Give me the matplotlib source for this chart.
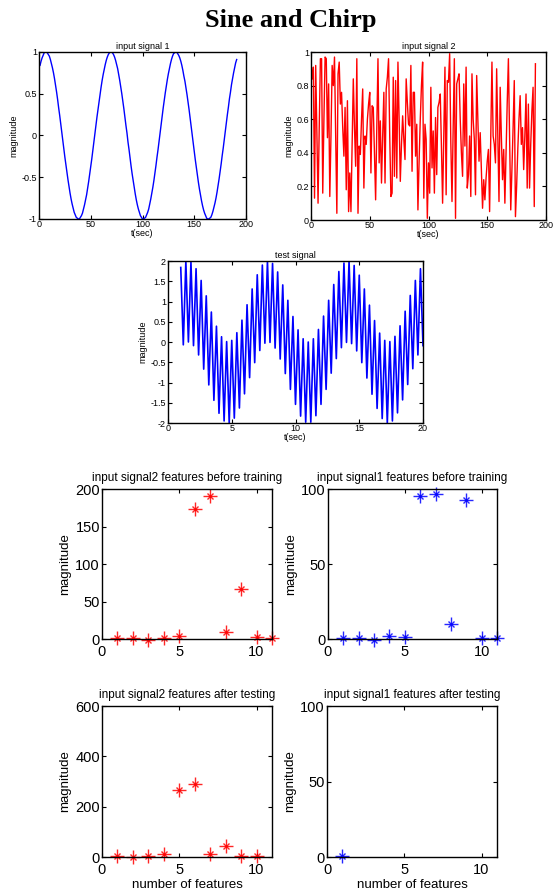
import matplotlib.pyplot as plt

# input signal 1 (sample index 1..191)
sig1 = [0.84, 0.89, 0.93, 0.96, 0.99, 1.00, 1.00, 0.99, 0.97, 0.95,
        0.91, 0.86, 0.81, 0.75, 0.68, 0.60, 0.52, 0.43, 0.33, 0.24,
        0.14, 0.04, -0.06, -0.16, -0.26, -0.35, -0.44, -0.53, -0.61, -0.69,
        -0.76, -0.82, -0.87, -0.92, -0.95, -0.98, -0.99, -1.00, -1.00, -0.98,
        -0.96, -0.93, -0.88, -0.83, -0.77, -0.71, -0.63, -0.55, -0.46, -0.37,
        -0.28, -0.18, -0.08, 0.02, 0.12, 0.22, 0.31, 0.40, 0.49, 0.58,
        0.66, 0.73, 0.79, 0.85, 0.90, 0.94, 0.97, 0.99, 1.00, 1.00,
        0.99, 0.97, 0.94, 0.90, 0.85, 0.80, 0.73, 0.66, 0.58, 0.50,
        0.41, 0.32, 0.22, 0.12, 0.03, -0.08, -0.17, -0.27, -0.37, -0.46,
        -0.54, -0.62, -0.70, -0.77, -0.83, -0.88, -0.92, -0.96, -0.98, -1.00,
        -1.00, -0.99, -0.98, -0.95, -0.92, -0.88, -0.82, -0.76, -0.69, -0.62,
        -0.54, -0.45, -0.36, -0.26, -0.17, -0.07, 0.03, 0.13, 0.23, 0.33,
        0.42, 0.51, 0.59, 0.67, 0.74, 0.80, 0.86, 0.91, 0.95, 0.98,
        0.99, 1.00, 1.00, 0.98, 0.96, 0.93, 0.89, 0.84, 0.78, 0.71,
        0.65, 0.57, 0.49, 0.40, 0.31, 0.21, 0.11, 0.01, -0.09, -0.19,
        -0.29, -0.38, -0.47, -0.56, -0.64, -0.71, -0.78, -0.84, -0.89, -0.93,
        -0.96, -0.99, -1.00, -1.00, -0.99, -0.98, -0.95, -0.91, -0.86, -0.81,
        -0.75, -0.68, -0.60, -0.52, -0.43, -0.34, -0.24, -0.15, -0.05, 0.05,
        0.15, 0.25, 0.34, 0.44, 0.52, 0.61, 0.68, 0.75, 0.81, 0.87,
        0.91]

# input signal 2 (sample index 1..191)
sig2 = [0.84, 0.91, 0.13, 0.92, 0.52, 0.10, 0.55, 0.96, 0.96, 0.16,
        0.60, 0.97, 0.96, 0.49, 0.81, 0.14, 0.50, 0.92, 0.80, 0.97,
        0.50, 0.04, 0.87, 0.94, 0.69, 0.76, 0.55, 0.38, 0.67, 0.18,
        0.71, 0.05, 0.28, 0.05, 0.45, 0.84, 0.55, 0.32, 0.96, 0.04,
        0.44, 0.39, 0.60, 0.78, 0.19, 0.50, 0.45, 0.60, 0.69, 0.76,
        0.28, 0.68, 0.67, 0.40, 0.12, 0.55, 0.96, 0.34, 0.59, 0.22,
        0.50, 0.76, 0.22, 0.78, 0.85, 0.96, 0.50, 0.14, 0.16, 0.85,
        0.26, 0.83, 0.25, 0.94, 0.60, 0.23, 0.45, 0.62, 0.48, 0.36,
        0.84, 0.70, 0.57, 0.56, 0.92, 0.29, 0.76, 0.76, 0.38, 0.57,
        0.06, 0.35, 0.60, 0.80, 0.94, 0.13, 0.57, 0.48, 0.01, 0.34,
        0.16, 0.79, 0.31, 0.53, 0.16, 0.61, 0.27, 0.67, 0.70, 0.75,
        0.44, 0.10, 0.50, 0.91, 0.15, 0.83, 0.82, 0.99, 0.46, 0.11,
        0.55, 0.96, 0.01, 0.81, 0.84, 0.87, 0.60, 0.40, 0.26, 0.81,
        0.44, 0.91, 0.19, 0.27, 0.50, 0.14, 0.87, 0.60, 0.48, 0.15,
        0.86, 0.60, 0.35, 0.52, 0.30, 0.07, 0.24, 0.12, 0.25, 0.35,
        0.42, 0.05, 0.50, 0.94, 0.50, 0.45, 0.34, 0.90, 0.50, 0.11,
        0.79, 0.50, 0.24, 0.42, 0.10, 0.40, 0.70, 0.96, 0.50, 0.06,
        0.30, 0.55, 0.83, 0.02, 0.20, 0.42, 0.60, 0.74, 0.45, 0.55,
        0.30, 0.50, 0.75, 0.19, 0.69, 0.19, 0.45, 0.65, 0.79, 0.08,
        0.93]

# test signal: t = 1..20 s every 0.2 s, slow wave (every other sig1 sample) plus a fast +/-1 swing
slow = sig1[::2]
t_test = [1 + 0.2 * i for i in range(len(slow))]
fast = ([1, -1] * 48)[:len(slow)]
test_sig = [a + b for a, b in zip(slow, fast)]

features = list(range(1, 12))
s2_before = [1.3, 1.0, -1.0, 1.0, 4.5, 174, 191, 9, 67, 2.5, 0.8]
s1_before = [0.5, 0.7, -0.4, 2.2, 1.3, 95.5, 96.5, 10.2, 92.5, 0.7, 0.5]
features_test = list(range(1, 11))
s2_after = [5, 0, 5, 10, 265, 292, 10, 45, 4, 4]
s1_after_x = [1]
s1_after = [0.5]

plt.rcParams['font.family'] = ['Liberation Sans', 'DejaVu Sans']
plt.rcParams['path.simplify'] = False

W, H = 553, 896
fig = plt.figure(figsize=(W / 100, H / 100), dpi=100)


def add_ax(left, top, right, bottom):
    return fig.add_axes([left / W, 1 - bottom / H, (right - left) / W, (bottom - top) / H])


def style(ax, fs, xpad=1):
    ax.tick_params(direction='in', top=True, right=True, labelsize=fs, length=3, width=0.8, pad=1.5)
    ax.tick_params(axis='x', pad=xpad)
    for s in ax.spines.values():
        s.set_linewidth(1.0)


small = 6.5
fig.text(0.525, 1 - 21 / H, 'Sine and Chirp', ha='center', va='center',
         fontsize=19, fontweight='bold', family='Liberation Serif')

# input signal 1
ax1 = add_ax(39, 52, 246, 219)
ax1.plot(range(1, len(sig1) + 1), sig1, color='blue', lw=1)
ax1.set_xlim(0, 200)
ax1.set_ylim(-1, 1)
ax1.set_xticks([0, 50, 100, 150, 200])
ax1.set_yticks([-1, -0.5, 0, 0.5, 1])
ax1.set_yticklabels(['-1', '-0.5', '0', '0.5', '1'])
ax1.set_title('input signal 1', fontsize=small, pad=2)
ax1.set_xlabel('t(sec)', fontsize=small, labelpad=0)
ax1.set_ylabel('magnitude', fontsize=small, labelpad=2)
style(ax1, small)

# input signal 2
ax2 = add_ax(311, 52, 546, 220)
ax2.plot(range(1, len(sig2) + 1), sig2, color='red', lw=1)
ax2.set_xlim(0, 200)
ax2.set_ylim(0, 1)
ax2.set_xticks([0, 50, 100, 150, 200])
ax2.set_yticks([0, 0.2, 0.4, 0.6, 0.8, 1])
ax2.set_yticklabels(['0', '0.2', '0.4', '0.6', '0.8', '1'])
ax2.set_title('input signal 2', fontsize=small, pad=2)
ax2.set_xlabel('t(sec)', fontsize=small, labelpad=0)
ax2.set_ylabel('magnitude', fontsize=small, labelpad=2)
style(ax2, small)

# test signal
ax3 = add_ax(168, 261, 423, 423)
ax3.plot(t_test, test_sig, color='blue', lw=1.2)
ax3.set_xlim(0, 20)
ax3.set_ylim(-2, 2)
ax3.set_xticks([0, 5, 10, 15, 20])
ax3.set_yticks([-2, -1.5, -1, -0.5, 0, 0.5, 1, 1.5, 2])
ax3.set_yticklabels(['-2', '-1.5', '-1', '-0.5', '0', '0.5', '1', '1.5', '2'])
ax3.set_title('test signal', fontsize=small, pad=2)
ax3.set_xlabel('t(sec)', fontsize=small, labelpad=0)
ax3.set_ylabel('magnitude', fontsize=small, labelpad=2)
style(ax3, small)

big = 9.5


def stars(ax, x, y, c):
    ax.plot(x, y, '+', color=c, ms=10, mew=1.0, alpha=0.85, clip_on=False)
    ax.plot(x, y, 'x', color=c, ms=5, mew=1.0, alpha=0.85, clip_on=False)


panels = [
    ((102, 489, 272, 639), features, s2_before, 'red', 200, [0, 50, 100, 150, 200],
     'input signal2 features before training', False),
    ((328, 489, 497, 639), features, s1_before, 'blue', 100, [0, 50, 100],
     'input signal1 features before training', False),
    ((102, 706, 272, 857), features_test, s2_after, 'red', 600, [0, 200, 400, 600],
     'input signal2 features after testing', True),
    ((327, 706, 497, 857), s1_after_x, s1_after, 'blue', 100, [0, 50, 100],
     'input signal1 features after testing', True),
]

for box, x, y, c, ymax, yt, title, xl in panels:
    ax = add_ax(*box)
    stars(ax, x, y, c)
    ax.set_xlim(0, 11)
    ax.set_ylim(0, ymax)
    ax.set_xticks([0, 5, 10])
    ax.set_yticks(yt)
    ax.set_title(title, fontsize=8.5, pad=6)
    ax.set_ylabel('magnitude', fontsize=big, labelpad=3)
    if xl:
        ax.set_xlabel('number of features', fontsize=big, labelpad=2)
    style(ax, big + 1, xpad=4)

fig.savefig('out.png', dpi=100)
